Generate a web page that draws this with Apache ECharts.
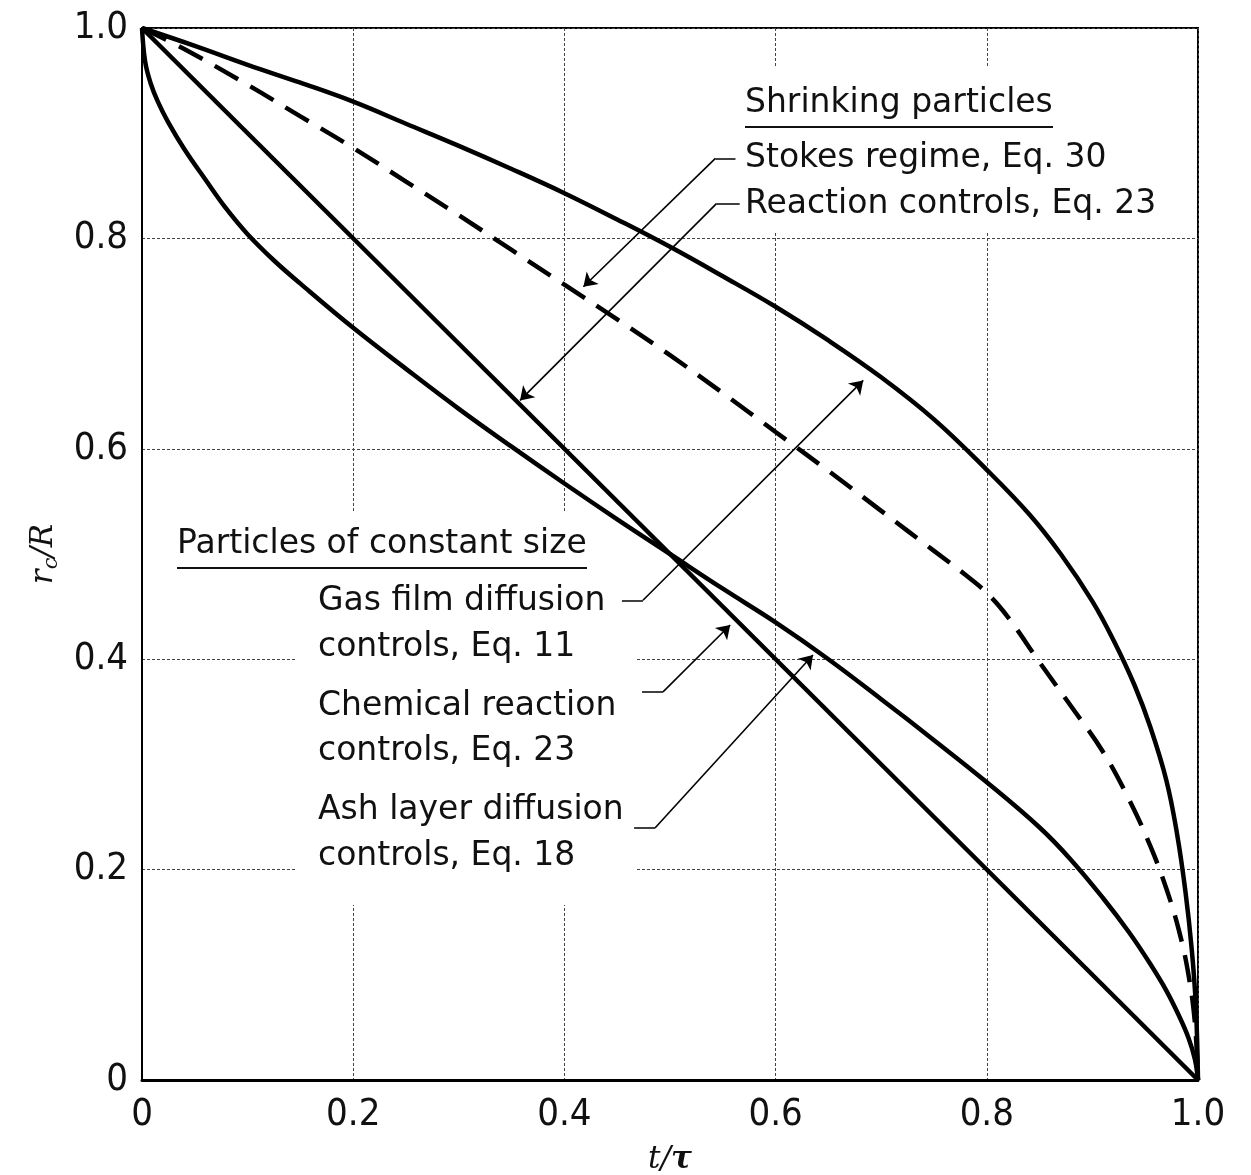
<!DOCTYPE html>
<html>
<head>
<meta charset="utf-8">
<script src="https://cdn.jsdelivr.net/npm/echarts@6/dist/echarts.min.js"></script>
<style>
  html, body { margin: 0; padding: 0; background: #fff; }
  #chart { width: 1251px; height: 1175px; }
</style>
</head>
<body>
<div id="chart"></div>
<script>
// values: t/τ vs rc/R
const gasFilmT = [0, 0.05, 0.1, 0.15, 0.2, 0.25, 0.3, 0.35, 0.4, 0.45, 0.5, 0.55, 0.6, 0.65, 0.7, 0.75, 0.8, 0.84, 0.87, 0.9, 0.92, 0.94, 0.955, 0.97, 0.98, 0.988, 0.994, 0.998, 1]
const gasFilmR = [1, 0.983, 0.965, 0.948, 0.93, 0.909, 0.888, 0.866, 0.843, 0.818, 0.792, 0.764, 0.735, 0.703, 0.668, 0.628, 0.58, 0.538, 0.5, 0.455, 0.418, 0.375, 0.335, 0.285, 0.235, 0.18, 0.125, 0.07, 0]

const stokesT = [0, 0.04, 0.1, 0.15, 0.2, 0.25, 0.3, 0.35, 0.4, 0.45, 0.5, 0.55, 0.6, 0.65, 0.7, 0.75, 0.78, 0.8, 0.82, 0.85, 0.88, 0.91, 0.935, 0.955, 0.97, 0.982, 0.991, 0.997, 1]
const stokesR = [1, 0.98, 0.946, 0.916, 0.886, 0.854, 0.822, 0.789, 0.756, 0.723, 0.689, 0.653, 0.616, 0.579, 0.541, 0.503, 0.48, 0.463, 0.44, 0.397, 0.355, 0.312, 0.266, 0.222, 0.182, 0.142, 0.1, 0.055, 0]

const reactionT = [0, 1]
const reactionR = [1, 0]

const ashT = [0, 0.003, 0.008, 0.015, 0.025, 0.04, 0.06, 0.08, 0.1, 0.125, 0.15, 0.2, 0.25, 0.3, 0.35, 0.4, 0.45, 0.5, 0.55, 0.6, 0.65, 0.7, 0.75, 0.8, 0.85, 0.88, 0.91, 0.935, 0.955, 0.97, 0.982, 0.991, 0.997, 1]
const ashR = [1, 0.968, 0.948, 0.93, 0.91, 0.885, 0.856, 0.828, 0.804, 0.779, 0.757, 0.715, 0.676, 0.638, 0.602, 0.567, 0.533, 0.5, 0.467, 0.435, 0.4, 0.362, 0.323, 0.283, 0.24, 0.209, 0.173, 0.14, 0.11, 0.085, 0.061, 0.04, 0.02, 0]

const tickValues = [0, 0.2, 0.4, 0.6, 0.8, 1]
const tickLabels = ['0', '0.2', '0.4', '0.6', '0.8', '1.0']

// leader lines: short tick at the label, then a diagonal ending in an arrow
const leaderTicks = [
  [[0.562, 0.876], [0.543, 0.876]],
  [[0.566, 0.833], [0.544, 0.833]],
  [[0.4545, 0.456], [0.4744, 0.456]],
  [[0.4735, 0.369], [0.4934, 0.369]],
  [[0.466, 0.2395], [0.4858, 0.2395]],
]
const leaderArrows = [
  [[0.543, 0.876], [0.418, 0.754]],
  [[0.544, 0.833], [0.358, 0.646]],
  [[0.4744, 0.456], [0.683, 0.665]],
  [[0.4934, 0.369], [0.557, 0.4325]],
  [[0.4858, 0.2395], [0.6354, 0.404]],
]

function pairs(xs, ys) {
  return xs.map((x, i) => [x, ys[i]])
}

function tickLabel(v) {
  const i = tickValues.findIndex(t => Math.abs(t - v) < 1e-6)
  return i >= 0 ? tickLabels[i] : ''
}

const labelFont = '33px "DejaVu Sans"'

function label(text, x, y) {
  return {
    type: 'text',
    x,
    y,
    z: 10,
    style: { text, font: labelFont, fill: '#111', verticalAlign: 'middle' },
  }
}

function underline(x1, x2, y) {
  return {
    type: 'line',
    z: 10,
    shape: { x1, y1: y, x2, y2: y },
    style: { stroke: '#111', lineWidth: 2 },
  }
}

function whiteBox(x, y, width, height) {
  return {
    type: 'rect',
    z: 1,
    shape: { x, y, width, height },
    style: { fill: '#fff' },
  }
}

const chart = echarts.init(document.getElementById('chart'), null, { renderer: 'canvas' })

const curveStyle = { color: '#000', width: 4.5 }

function curve(name, xs, ys, lineStyle) {
  return {
    name,
    type: 'line',
    data: pairs(xs, ys),
    showSymbol: false,
    smooth: 0.4,
    lineStyle,
    z: 4,
  }
}

const option = {
  backgroundColor: '#fff',
  animation: false,
  grid: {
    left: 142,
    right: 53,
    top: 28,
    bottom: 95,
    outerBoundsMode: 'none',
    show: true,
    borderColor: '#000',
    borderWidth: 2,
    backgroundColor: 'transparent',
  },
  xAxis: {
    type: 'value',
    min: 0,
    max: 1,
    interval: 0.2,
    name: '{i|t}{i|/}{b|τ}',
    nameLocation: 'middle',
    nameGap: 64,
    nameTextStyle: {
      rich: {
        i: { fontFamily: 'DejaVu Serif', fontStyle: 'italic', fontSize: 31, color: '#111' },
        b: { fontFamily: 'DejaVu Serif', fontStyle: 'italic', fontWeight: 'bold', fontSize: 31, color: '#111' },
      },
    },
    axisLine: { lineStyle: { color: '#000', width: 3 } },
    axisTick: { show: false },
    axisLabel: {
      margin: 16,
      formatter: tickLabel,
      fontFamily: 'DejaVu Sans Condensed',
      fontSize: 38,
      color: '#111',
    },
    splitLine: { show: true, lineStyle: { color: '#444', width: 1, type: [3, 2] } },
  },
  yAxis: {
    type: 'value',
    min: 0,
    max: 1,
    interval: 0.2,
    name: '{i|r}{s|c}{i|/R}',
    nameLocation: 'middle',
    nameGap: 80,
    nameTextStyle: {
      rich: {
        i: { fontFamily: 'DejaVu Serif', fontStyle: 'italic', fontSize: 31, color: '#111' },
        s: { fontFamily: 'DejaVu Serif', fontStyle: 'italic', fontSize: 21, color: '#111', padding: [15, 0, 0, 0] },
      },
    },
    axisLine: { lineStyle: { color: '#000', width: 2 } },
    axisTick: { show: false },
    axisLabel: {
      margin: 14,
      formatter: tickLabel,
      fontFamily: 'DejaVu Sans Condensed',
      fontSize: 38,
      color: '#111',
    },
    splitLine: { show: true, lineStyle: { color: '#444', width: 1, type: [3, 2] } },
  },
  graphic: [
    whiteBox(690, 66, 485, 166),
    whiteBox(170, 513, 466, 62),
    whiteBox(296, 513, 340, 392),
    label('Shrinking particles', 745, 103),
    underline(745, 1053, 127),
    label('Stokes regime, Eq. 30', 745, 158),
    label('Reaction controls, Eq. 23', 745, 204),
    label('Particles of constant size', 177, 544),
    underline(177, 587, 568),
    label('Gas film diffusion', 318, 601),
    label('controls, Eq. 11', 318, 647),
    label('Chemical reaction', 318, 706),
    label('controls, Eq. 23', 318, 751),
    label('Ash layer diffusion', 318, 810),
    label('controls, Eq. 18', 318, 856),
  ],
  series: [
    curve('Gas film diffusion controls', gasFilmT, gasFilmR, curveStyle),
    curve('Stokes regime', stokesT, stokesR, { color: '#000', width: 4.5, type: [27, 14] }),
    curve('Reaction controls', reactionT, reactionR, curveStyle),
    curve('Ash layer diffusion controls', ashT, ashR, curveStyle),
    {
      type: 'lines',
      coordinateSystem: 'cartesian2d',
      data: leaderTicks.map(c => ({ coords: c })),
      symbol: ['none', 'none'],
      lineStyle: { color: '#000', width: 1.6, opacity: 1 },
      silent: true,
      z: 5,
    },
    {
      type: 'lines',
      coordinateSystem: 'cartesian2d',
      data: leaderArrows.map(c => ({ coords: c })),
      symbol: ['none', 'arrow'],
      symbolSize: 13,
      lineStyle: { color: '#000', width: 1.6, opacity: 1 },
      silent: true,
      z: 5,
    },
  ],
}

chart.setOption(option)
</script>
</body>
</html>
